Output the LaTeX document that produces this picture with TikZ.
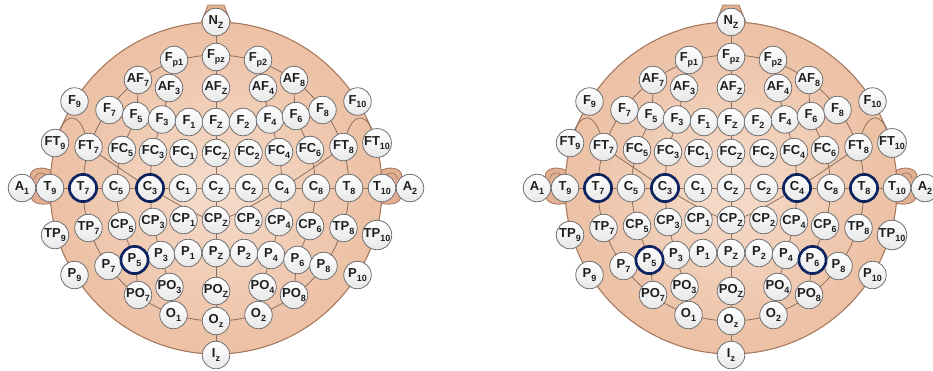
\documentclass[tikz,border=0pt]{standalone}
\usepackage{fontspec}
\setmainfont{Liberation Sans}

\pgfdeclarelayer{skin}
\pgfdeclarelayer{wires}
\pgfsetlayers{skin,wires,main}

\definecolor{skinin}{HTML}{F6DCCB}
\definecolor{skinmid}{HTML}{EDC3A8}
\definecolor{skinout}{HTML}{E4B093}
\definecolor{skinrim}{HTML}{EEC6AC}
\definecolor{skinedge}{HTML}{A97C62}
\definecolor{wire}{HTML}{8E705E}
\definecolor{navy}{HTML}{0E2460}
\definecolor{ink}{HTML}{1E1E1E}
\definecolor{rimgray}{HTML}{707070}

\pgfdeclareradialshading{headshade}{\pgfpoint{0bp}{0bp}}{%
  color(0bp)=(skinin); color(22bp)=(skinmid); color(44bp)=(skinout);
  color(47bp)=(skinrim); color(50bp)=(skinout); color(100bp)=(skinout)}

% electrode label: letters with a lowered subscript
\newcommand{\elab}[2]{#1\raisebox{-0.55ex}{\fontsize{9}{9}\selectfont #2}}

\tikzset{
  electrode/.style={circle, minimum size=27.5pt, inner sep=0pt, draw=rimgray,
    line width=0.8pt, top color=white, bottom color=black!9,
    font=\bfseries\fontsize{13}{13}\selectfont, text=ink},
  wireline/.style={draw=wire, line width=0.8pt},
  marked/.style={draw=navy, line width=2.7pt},
}

% 10-10 electrode positions (pt, y pointing down) with label parts
\def\eeglist{%
Nz/0/-166/N/Z, Fp1/-42/-128/F/p1, Fpz/0/-131/F/pz, Fp2/42/-128/F/p2,
AF7/-78/-108/AF/7, AF3/-47/-100/AF/3, AFz/0/-100/AF/Z, AF4/47/-100/AF/4, AF8/78/-108/AF/8,
F9/-141.5/-86.5/F/9, F7/-106.5/-78/F/7, F5/-80/-72/F/5, F3/-54/-68.5/F/3, F1/-27/-66/F/1,
Fz/0/-66/F/Z, F2/27/-66/F/2, F4/54/-68.5/F/4, F6/80/-72/F/6, F8/106.5/-78/F/8, F10/141.5/-86.5/F/10,
FT9/-161/-45/FT/9, FT7/-127.5/-41/FT/7, FC5/-94/-38/FC/5, FC3/-63/-36/FC/3, FC1/-32.5/-35/FC/1,
FCz/0/-35/FC/Z, FC2/32.5/-35/FC/2, FC4/63/-36/FC/4, FC6/94/-38/FC/6, FT8/127.5/-41/FT/8, FT10/161/-45/FT/10,
A1/-194/0/A/1, T9/-166/0/T/9, T7/-133/0/T/7, C5/-100/0/C/5, C3/-66/0/C/3, C1/-33/0/C/1,
Cz/0/0/C/Z, C2/33/0/C/2, C4/66/0/C/4, C6/100/0/C/8, T8/133/0/T/8, T10/166/0/T/10, A2/194/0/A/2,
TP9/-161/47/TP/9, TP7/-127.5/40/TP/7, CP5/-94/38/CP/5, CP3/-63/34/CP/3, CP1/-32.5/32/CP/1,
CPz/0/32/CP/Z, CP2/32.5/32/CP/2, CP4/63/34/CP/4, CP6/94/38/CP/6, TP8/127.5/40/TP/8, TP10/161/47/TP/10,
P9/-141.5/87/P/9, P7/-107.5/78/P/7, P5/-81.5/72/P/5, P3/-55/67/P/3, P1/-28/65/P/1,
Pz/0/65/P/Z, P2/28/65/P/2, P4/55/67/P/4, P6/81.5/72/P/6, P8/107.5/78/P/8, P10/141.5/87/P/10,
PO7/-78/107/PO/7, PO3/-46.5/99/PO/3, POz/0/103/PO/Z, PO4/46.5/99/PO/4, PO8/78/107/PO/8,
O1/-42.5/127/O/1, Oz/0/133/O/z, O2/42.5/127/O/2, Iz/0/167/I/z}

% one head map: #1 = name prefix, #2 = marked electrodes
\newcommand{\eegmap}[2]{%
  % electrodes
  \foreach \n/\x/\y/\m/\s in \eeglist
    \node[electrode] (#1-\n) at (\x,\y) {\elab{\m}{\s}};
  \foreach \n in {#2}
    \draw[marked] (#1-\n.center) circle (13.6pt);
  % head, nose and ears
  \begin{pgfonlayer}{skin}
    \foreach \sx in {1,-1}{
      \filldraw[fill=skinout, draw=skinedge, line width=0.9pt, xscale=\sx]
        (-164,-17) .. controls (-172,-22) and (-186,-21) .. (-186,-11)
        -- (-185,8) .. controls (-185,15) and (-175,18) .. (-164,15) -- cycle;
      \draw[skinedge, line width=0.8pt, xscale=\sx]
        (-169,-12) .. controls (-173,-17) and (-181,-16) .. (-181,-9);
    }
    \filldraw[fill=skinout, draw=skinedge, line width=0.9pt]
      (-17,-160) -- (-8,-183) -- (8,-183) -- (17,-160) -- cycle;
    \fill[shading=headshade] (0,0) circle (166pt);
    \draw[skinedge, line width=1.1pt] (0,0) circle (166pt);
  \end{pgfonlayer}
  % connecting lines
  \begin{pgfonlayer}{wires}
    \draw[wireline] (0,0) circle (133pt);
    \draw[wireline] (#1-A1.center) -- (#1-A2.center);
    \draw[wireline] (#1-Nz.center) -- (#1-Iz.center);
    \draw[wireline] plot[smooth] coordinates {(#1-Fp1.center) (#1-AF3.center)
      (#1-F3.center) (#1-FC3.center) (#1-C3.center) (#1-CP3.center)
      (#1-P3.center) (#1-PO3.center) (#1-O1.center)};
    \draw[wireline] plot[smooth] coordinates {(#1-Fp2.center) (#1-AF4.center)
      (#1-F4.center) (#1-FC4.center) (#1-C4.center) (#1-CP4.center)
      (#1-P4.center) (#1-PO4.center) (#1-O2.center)};
    \draw[wireline] plot[smooth] coordinates {(#1-AF7.center) (#1-F5.center)
      (#1-FC5.center) (#1-C5.center) (#1-CP5.center) (#1-P5.center) (#1-PO7.center)};
    \draw[wireline] plot[smooth] coordinates {(#1-AF8.center) (#1-F6.center)
      (#1-FC6.center) (#1-C6.center) (#1-CP6.center) (#1-P6.center) (#1-PO8.center)};
    \draw[wireline] plot[smooth, tension=0.4] coordinates {(#1-FT7.center)
      (#1-C3.center) (#1-CPz.center) (#1-C4.center) (#1-FT8.center)};
    \draw[wireline] (#1-FT9.center) .. controls (-152,-80) and (-134,-78) .. (#1-FT7.center);
    \draw[wireline] (#1-FT10.center) .. controls (152,-80) and (134,-78) .. (#1-FT8.center);
  \end{pgfonlayer}
}

\begin{document}
\begin{tikzpicture}[x=1pt, y=-1pt]
  \useasboundingbox (0,0) rectangle (933,370);
  \begin{scope}[shift={(216,188)}]
    \eegmap{L}{T7,C3,P5}
  \end{scope}
  \begin{scope}[shift={(731,188)}]
    \eegmap{R}{T7,C3,C4,T8,P5,P6}
  \end{scope}
\end{tikzpicture}
\end{document}
